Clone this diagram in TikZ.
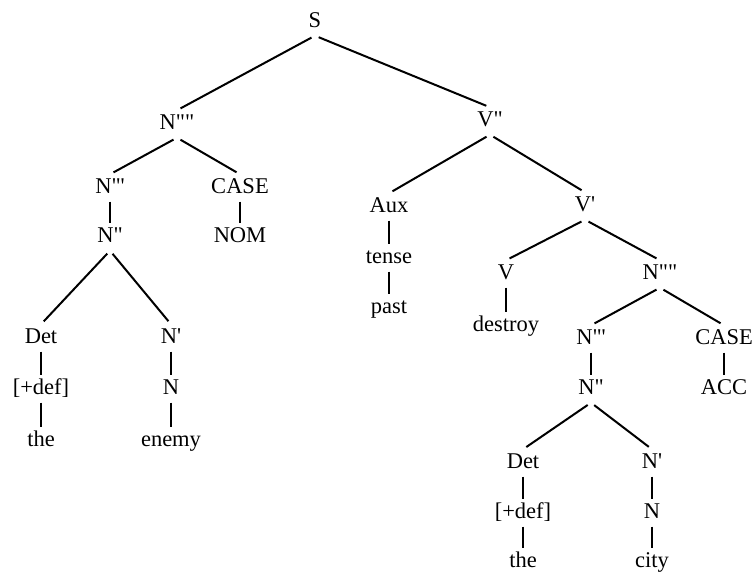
\documentclass[tikz,border=0pt]{standalone}
\usepackage{fontspec}
\setmainfont{Liberation Serif}[Ligatures=TeXOff]
\begin{document}
\begin{tikzpicture}[x=1pt,y=-1pt,
  every node/.style={font=\fontsize{22.5}{26}\selectfont, text height=15pt, text depth=4pt, inner xsep=0pt, inner ysep=4pt},
  edge/.style={line width=2pt},
  branch/.style={edge, shorten <=4pt, shorten >=4pt}]
\useasboundingbox (0,0) rectangle (755,575);
% nodes
\node (S) at (315,22) {S};
\node (N4L) at (177,124) {N""};
\node (V2) at (490,121) {V"};
\node (N3L) at (110,188) {N"'};
\node (CASEL) at (240,188) {CASE};
\node (N2L) at (110,237) {N"};
\node (NOM) at (240,237) {NOM};
\node (DetL) at (41,338) {Det};
\node (N1L) at (171,338) {N'};
\node (defL) at (41,389) {[+def]};
\node (NL) at (171,389) {N};
\node (theL) at (41,441) {the};
\node (enemy) at (171,441) {enemy};
\node (Aux) at (389,207) {Aux};
\node (tense) at (389,258) {tense};
\node (past) at (389,308) {past};
\node (V1) at (585,206) {V'};
\node (V) at (506,274) {V};
\node (destroy) at (506,326) {destroy};
\node (N4R) at (660,274) {N""};
\node (N3R) at (591,339) {N"'};
\node (CASER) at (724,339) {CASE};
\node (N2R) at (591,389) {N"};
\node (ACC) at (724,389) {ACC};
\node (DetR) at (523,463) {Det};
\node (N1R) at (652,463) {N'};
\node (defR) at (523,513) {[+def]};
\node (NR) at (652,513) {N};
\node (theR) at (523,562) {the};
\node (city) at (652,562) {city};
% branching edges
\draw[branch] (S.south) -- (N4L.north);
\draw[branch] (S.south) -- (V2.north);
\draw[branch] (N4L.south) -- (N3L.north);
\draw[branch] (N4L.south) -- (CASEL.north);
\draw[branch] (N2L.south) -- (DetL.north);
\draw[branch] (N2L.south) -- (N1L.north);
\draw[branch] (V2.south) -- (Aux.north);
\draw[branch] (V2.south) -- (V1.north);
\draw[branch] (V1.south) -- (V.north);
\draw[branch] (V1.south) -- (N4R.north);
\draw[branch] (N4R.south) -- (N3R.north);
\draw[branch] (N4R.south) -- (CASER.north);
\draw[branch] (N2R.south) -- (DetR.north);
\draw[branch] (N2R.south) -- (N1R.north);
% unary edges
\draw[edge] (N3L.south) -- (N2L.north);
\draw[edge] (CASEL.south) -- (NOM.north);
\draw[edge] (DetL.south) -- (defL.north);
\draw[edge] (defL.south) -- (theL.north);
\draw[edge] (N1L.south) -- (NL.north);
\draw[edge] (NL.south) -- (enemy.north);
\draw[edge] (Aux.south) -- (tense.north);
\draw[edge] (tense.south) -- (past.north);
\draw[edge] (V.south) -- (destroy.north);
\draw[edge] (N3R.south) -- (N2R.north);
\draw[edge] (CASER.south) -- (ACC.north);
\draw[edge] (DetR.south) -- (defR.north);
\draw[edge] (defR.south) -- (theR.north);
\draw[edge] (N1R.south) -- (NR.north);
\draw[edge] (NR.south) -- (city.north);
\end{tikzpicture}
\end{document}
